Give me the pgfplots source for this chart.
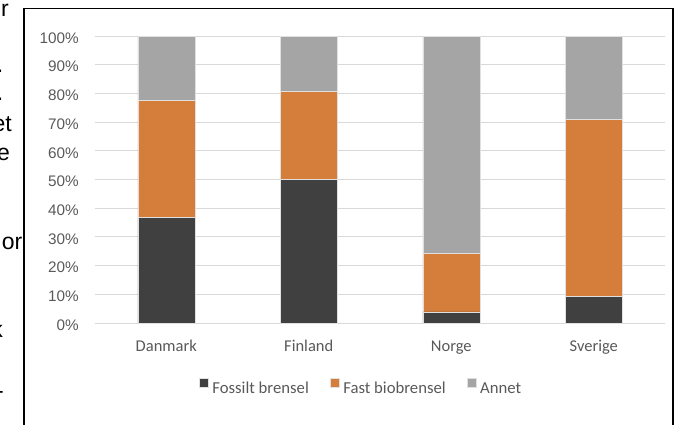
\documentclass[border=0pt]{standalone}
\usepackage{fontspec}
\setmainfont{Liberation Sans}
\newfontfamily\calibri{Carlito}
\usepackage{pgfplots}
\pgfplotsset{compat=1.18}

\definecolor{fossil}{HTML}{404040}
\definecolor{biofuel}{HTML}{D57D3A}
\definecolor{other}{HTML}{A5A5A5}
\definecolor{gridgray}{HTML}{D9D9D9}
\definecolor{labelgray}{HTML}{595959}

\begin{document}
\begin{tikzpicture}[x=1pt,y=1pt]
\useasboundingbox (0,0) rectangle (684,424);

% ends of the running text beside the figure
\begin{scope}[every node/.style={anchor=base east, inner sep=0pt},
              font=\fontsize{23}{27}\selectfont]
  \node at (9,407)   {r};
  \node at (3.5,352) {.};
  \node at (3.5,324) {.};
  \node at (12,293)  {et};
  \node at (10,264)  {e};
  \node at (22.5,175){or};
  \node at (3,87)    {k};
  \node at (4,26)    {-};
\end{scope}

% frame around the figure
\draw[line width=1.6pt, black] (24,-5) -- (24,415.5) -- (673,415.5) -- (673,-5);

\begin{axis}[
  at={(95pt,101pt)}, anchor=south west,
  scale only axis, width=570pt, height=287pt,
  ybar stacked, bar width=57pt,
  xmin=-0.5, xmax=3.5, ymin=0, ymax=100,
  axis line style={draw=none},
  major tick length=0pt,
  ymajorgrids, grid style={gridgray, line width=1pt},
  xtick={0,1,2,3},
  xticklabels={Danmark,Finland,Norge,Sverige},
  ytick={0,10,20,30,40,50,60,70,80,90,100},
  yticklabels={0\%,10\%,20\%,30\%,40\%,50\%,60\%,70\%,80\%,90\%,100\%},
  tick label style={text=labelgray},
  yticklabel style={font=\fontsize{15.3}{17}\selectfont, inner sep=0pt, xshift=-16pt, yshift=-2pt},
  xticklabel style={font=\calibri\fontsize{16.5}{18}\selectfont, anchor=base, inner sep=0pt, yshift=-28.7pt},
  legend columns=3,
  legend style={draw=none, fill=none, inner sep=0pt, outer sep=0pt,
    at={(0.18246,-0.2209)}, anchor=west,
    font=\calibri\fontsize{16.7}{19}\selectfont, text=labelgray,
    nodes={inner sep=0pt},
    /tikz/every odd column/.append style={column sep=4pt},
    /tikz/every even column/.append style={column sep=21pt}},
  legend image code/.code={\fill[#1] (0pt,2pt) rectangle (9pt,11pt);},
]
\addplot[fill=fossil, draw=white!88!black, line width=0.4pt]
  coordinates {(0,36.7) (1,50.0) (2,3.9) (3,9.2)};
\addplot[fill=biofuel, draw=white!88!black, line width=0.4pt]
  coordinates {(0,40.8) (1,30.7) (2,20.4) (3,61.8)};
\addplot[fill=other, draw=white!88!black, line width=0.4pt]
  coordinates {(0,22.5) (1,19.3) (2,75.7) (3,29.0)};
\legend{Fossilt brensel, Fast biobrensel, Annet}
\end{axis}
\end{tikzpicture}
\end{document}
